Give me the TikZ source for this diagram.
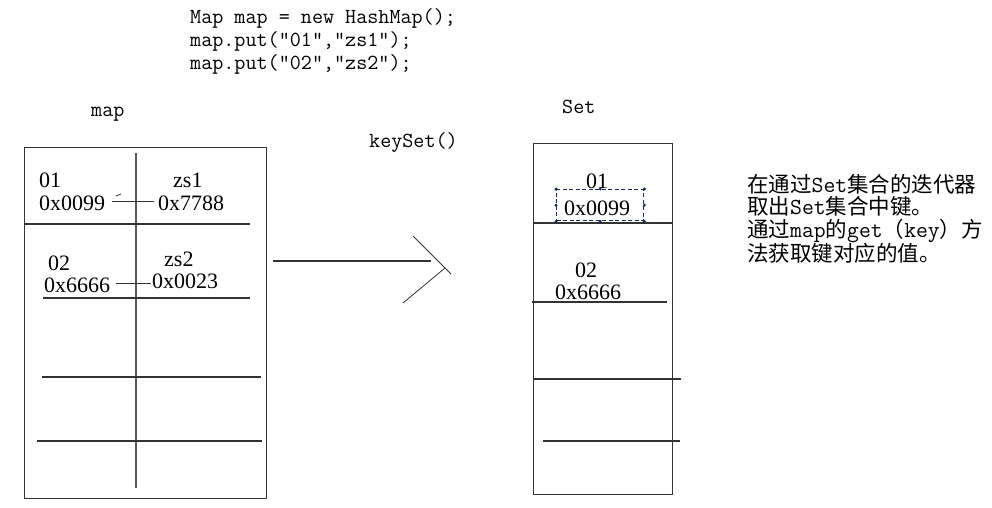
\documentclass[tikz,border=0pt]{standalone}
\usepackage{fontspec}
\setmainfont{Liberation Serif}
\newfontfamily\cjk{Noto Sans CJK SC}
\newcommand{\lt}[1]{{\ttfamily\fontsize{23}{22}\selectfont #1}}
\begin{document}
\begin{tikzpicture}[x=1pt,y=-1pt,
  ln/.style={line width=1.1pt, draw=black!80},
  thin/.style={line width=0.8pt, draw=black!80},
  val/.style={font=\fontsize{22}{22}\selectfont, inner sep=0pt, anchor=west},
  code/.style={font=\ttfamily\fontsize{21.5}{22}\selectfont, inner sep=0pt, anchor=west},
  note/.style={font=\cjk\fontsize{21.5}{22.5}\selectfont, inner sep=0pt, align=left, anchor=north west},
  sel/.style={line width=1.4pt, draw=navy, dash pattern=on 4pt off 2.5pt},
  handle/.style={fill=navy, inner sep=0pt, minimum size=3.2pt, circle}
]
\definecolor{navy}{RGB}{25,40,95}
\useasboundingbox[fill=white] (0,0) rectangle (992,508);

% code
\node[code] (c1) at (190,18) {Map map = new HashMap();};
\node[code] (c2) at (190,41) {map.put("01","zs1");};
\node[code] (c3) at (190,64) {map.put("02","zs2");};

% labels
\node[code] (lmap) at (91,114) {map};
\node[code] (lset) at (562,107) {Set};
\node[code] (lks) at (369,142) {keySet()};

% map box
\node[ln, draw, minimum width=242pt, minimum height=351pt, inner sep=0pt, anchor=north west] (mapbox) at (24,147) {};
\coordinate (vt) at (136,153); \coordinate (vb) at (136,488);
\draw[ln, draw=black!65] (vt) -- (vb);
\coordinate (h1a) at (24,224); \coordinate (h1b) at (250,224);
\coordinate (h2a) at (43,298); \coordinate (h2b) at (250,298);
\coordinate (h3a) at (42,377); \coordinate (h3b) at (261,377);
\coordinate (h4a) at (37,441); \coordinate (h4b) at (262,441);
\draw[ln] (h1a) -- (h1b);
\draw[ln] (h2a) -- (h2b);
\draw[ln] (h3a) -- (h3b);
\draw[ln] (h4a) -- (h4b);

\node[val] (k1) at (39,180) {01};
\node[val] (a1) at (39,203) {0x0099};
\node[val] (v1) at (173,180) {zs1};
\node[val] (b1) at (158,203) {0x7788};
\coordinate (l1a) at (112,201); \coordinate (l1b) at (154,201);
\draw[thin] (l1a) -- (l1b);
\coordinate (tk1) at (116,196); \coordinate (tk2) at (121,194);
\draw[thin] (tk1) -- (tk2);

\node[val] (k2) at (48,263) {02};
\node[val] (a2) at (44,285) {0x6666};
\node[val] (v2) at (164,259) {zs2};
\node[val] (b2) at (152,281) {0x0023};
\coordinate (l2a) at (116,283); \coordinate (l2b) at (151,283);
\draw[thin] (l2a) -- (l2b);

% arrow
\coordinate (ar1) at (273,261); \coordinate (ar2) at (431,261);
\draw[ln] (ar1) -- (ar2);
\coordinate (cu1) at (413,236); \coordinate (cu2) at (451,274);
\coordinate (cl1) at (403,303); \coordinate (cl2) at (445,268);
\draw[thin] (cu1) -- (cu2);
\draw[thin] (cl1) -- (cl2);

% set box
\node[ln, draw, minimum width=139pt, minimum height=351pt, inner sep=0pt, anchor=north west] (setbox) at (533,143) {};
\coordinate (s1a) at (533,223); \coordinate (s1b) at (672,223);
\coordinate (s2a) at (532,302); \coordinate (s2b) at (667,302);
\coordinate (s3a) at (533,379); \coordinate (s3b) at (681,379);
\coordinate (s4a) at (543,441); \coordinate (s4b) at (680,441);
\draw[ln] (s1a) -- (s1b);
\draw[ln] (s2a) -- (s2b);
\draw[ln] (s3a) -- (s3b);
\draw[ln] (s4a) -- (s4b);

\node[val] (sk1) at (586,181) {01};
\node[val] (sa1) at (564,208) {0x0099};
\node[sel, draw, minimum width=87pt, minimum height=31pt, inner sep=0pt, anchor=north west] (selbox) at (556,189) {};
\foreach \a in {north west,north,north east,east,south east,south,south west,west}
  \node[handle] at (selbox.\a) {};
\node[val] (sk2) at (575,270) {02};
\node[val] (sa2) at (555,292) {0x6666};

% note
\node[note] (note) at (747,174) {在通过\lt{Set}集合的迭代器\\取出\lt{Set}集合中键。\\通过\lt{map}的\lt{get}（\lt{key}）方\\法获取键对应的值。};
\end{tikzpicture}
\end{document}
